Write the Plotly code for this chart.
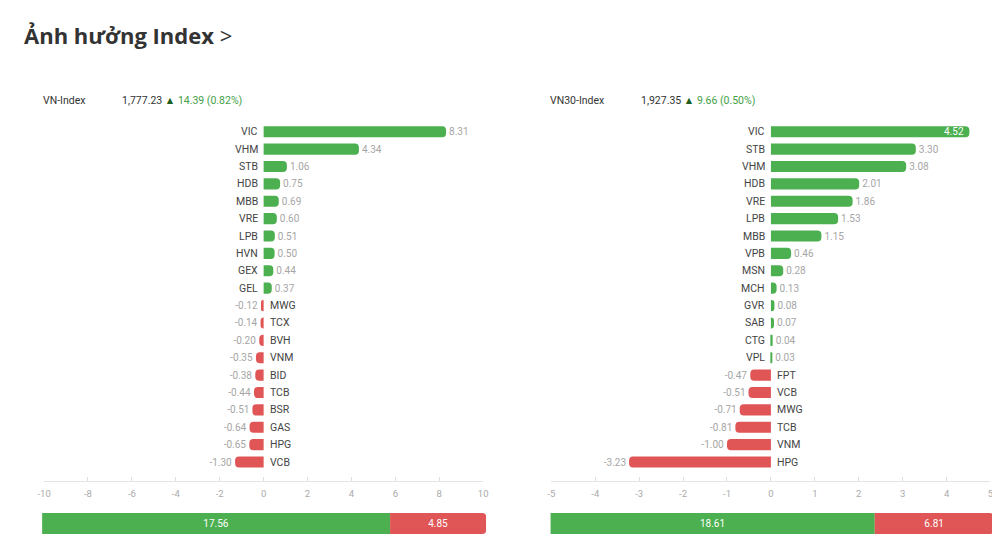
"""Index impact bars: VN-Index and VN30-Index contributors."""

import plotly.graph_objects as go

GREEN = "#4CAF50"
RED = "#E05656"
NAME_COLOR = "#444444"
VALUE_COLOR = "#A6A6A6"
FONT = "Roboto, Arial, sans-serif"

W, H = 1000, 542
# measured from a test render: screen_x ~= 17 + 0.9855 * plot_x, screen_y ~= 8 + plot_y
X0, XS, Y0 = 17.0, 0.9855, 8.0

TITLE = "Ảnh hưởng Index"

VN_LABEL = "VN-Index"
VN_LEVEL = "1,777.23"
VN_CHANGE = "14.39 (0.82%)"
VN_NAMES = ["VIC", "VHM", "STB", "HDB", "MBB", "VRE", "LPB", "HVN", "GEX", "GEL",
            "MWG", "TCX", "BVH", "VNM", "BID", "TCB", "BSR", "GAS", "HPG", "VCB"]
VN_VALUES = [8.31, 4.34, 1.06, 0.75, 0.69, 0.60, 0.51, 0.50, 0.44, 0.37,
             -0.12, -0.14, -0.20, -0.35, -0.38, -0.44, -0.51, -0.64, -0.65, -1.30]
VN_TICKS = [-10, -8, -6, -4, -2, 0, 2, 4, 6, 8, 10]
VN_UP, VN_DOWN = 17.56, 4.85

VN30_LABEL = "VN30-Index"
VN30_LEVEL = "1,927.35"
VN30_CHANGE = "9.66 (0.50%)"
VN30_NAMES = ["VIC", "STB", "VHM", "HDB", "VRE", "LPB", "MBB", "VPB", "MSN", "MCH",
              "GVR", "SAB", "CTG", "VPL", "FPT", "VCB", "MWG", "TCB", "VNM", "HPG"]
VN30_VALUES = [4.52, 3.30, 3.08, 2.01, 1.86, 1.53, 1.15, 0.46, 0.28, 0.13,
               0.08, 0.07, 0.04, 0.03, -0.47, -0.51, -0.71, -0.81, -1.00, -3.23]
VN30_TICKS = [-5, -4, -3, -2, -1, 0, 1, 2, 3, 4, 5]
VN30_UP, VN30_DOWN = 18.61, 6.81


def px_x(x):
    return (x - X0) / XS / W


def px_y(y):
    return 1 - (y - Y0) / H


def fmt(v: float) -> str:
    return f"{v:.2f}"


def add_panel(fig, names, values, ticks, xa, ya, left, right):
    lim = max(abs(t) for t in ticks)
    # the longest bar would run off the axis, so its label sits inside the bar
    inside = [abs(v) > 0.85 * lim for v in values]
    fig.add_trace(go.Bar(
        x=values, y=names, orientation="h", xaxis=xa, yaxis=ya,
        marker=dict(color=[GREEN if v >= 0 else RED for v in values],
                    cornerradius=4, line=dict(width=0)),
        width=0.64,
        text=["" if i else fmt(v) for v, i in zip(values, inside)],
        textposition="outside",
        outsidetextfont=dict(color=VALUE_COLOR, size=10, family=FONT),
        constraintext="none", cliponaxis=False, hoverinfo="x+y",
    ))
    for n, v, i in zip(names, values, inside):
        fig.add_annotation(
            x=0, y=n, xref=xa, yref=ya, text=n, showarrow=False,
            xanchor="right" if v >= 0 else "left", xshift=-4 if v >= 0 else 4,
            font=dict(size=10.5, color=NAME_COLOR, family=FONT),
        )
        if i:
            fig.add_annotation(
                x=v, y=n, xref=xa, yref=ya, text=fmt(v), showarrow=False,
                xanchor="right" if v >= 0 else "left", xshift=-3 if v >= 0 else 3,
                font=dict(size=10, color="white", family=FONT),
            )
    fig.update_layout({
        "xaxis" + xa[1:]: dict(
            domain=[px_x(left), px_x(right)], range=[-lim, lim], tickvals=ticks,
            ticktext=[str(t) for t in ticks], showgrid=False, zeroline=False,
            showline=True, linecolor="#E4E4E4", linewidth=1,
            ticks="inside", ticklen=4, tickcolor="#DDDDDD",
            tickfont=dict(size=9.5, color="#AAAAAA", family=FONT),
            ticklabelstandoff=4, anchor=ya, fixedrange=True),
        "yaxis" + ya[1:]: dict(
            domain=[px_y(481), px_y(123)], type="category", range=[20.09, -0.5],
            showticklabels=False, showgrid=False, zeroline=False,
            anchor=xa, fixedrange=True),
    })


def add_summary(fig, up, down, xa, ya, left, right):
    for v, c in ((up, GREEN), (down, RED)):
        fig.add_trace(go.Bar(
            x=[v], y=[0], orientation="h", xaxis=xa, yaxis=ya, width=1,
            marker=dict(color=c, cornerradius=4, line=dict(width=0)),
            text=[fmt(v)], textposition="inside", insidetextanchor="middle",
            textfont=dict(color="white", size=10, family=FONT), hoverinfo="x",
        ))
    fig.update_layout({
        "xaxis" + xa[1:]: dict(domain=[px_x(left), px_x(right)], range=[0, up + down],
                                visible=False, anchor=ya, fixedrange=True),
        "yaxis" + ya[1:]: dict(domain=[px_y(534), px_y(513)], range=[-0.5, 0.5],
                                visible=False, anchor=xa, fixedrange=True),
    })


def add_header(fig, x_label, x_value, label, level, change):
    y = px_y(100)
    fig.add_annotation(x=px_x(x_label), y=y, xref="paper", yref="paper", text=label,
                       showarrow=False, xanchor="left", yanchor="middle",
                       font=dict(size=10.5, color="#333333", family=FONT))
    fig.add_annotation(
        x=px_x(x_value), y=y, xref="paper", yref="paper", showarrow=False,
        xanchor="left", yanchor="middle",
        text=(f"{level} <span style='color:#1B5E20'>▲</span> "
              f"<span style='color:#43A047'>{change}</span>"),
        font=dict(size=10.5, color="#333333", family=FONT),
    )


def main() -> None:
    fig = go.Figure()
    add_panel(fig, VN_NAMES, VN_VALUES, VN_TICKS, "x", "y", 46, 484)
    add_panel(fig, VN30_NAMES, VN30_VALUES, VN30_TICKS, "x2", "y2", 552, 990)
    add_summary(fig, VN_UP, VN_DOWN, "x3", "y3", 44, 487)
    add_summary(fig, VN30_UP, VN30_DOWN, "x4", "y4", 551, 993)
    add_header(fig, 43, 122, VN_LABEL, VN_LEVEL, VN_CHANGE)
    add_header(fig, 549, 639, VN30_LABEL, VN30_LEVEL, VN30_CHANGE)

    fig.add_annotation(
        x=px_x(24), y=px_y(35), xref="paper", yref="paper", showarrow=False,
        xanchor="left", yanchor="middle",
        text=f"<b>{TITLE}</b> &gt;",
        font=dict(size=22, color="#333333", family="Open Sans, Arial, sans-serif"),
    )

    fig.update_layout(
        width=W, height=H, barmode="relative", showlegend=False,
        margin=dict(l=0, r=0, t=0, b=0),
        paper_bgcolor="white", plot_bgcolor="white",
        font=dict(family=FONT),
    )
    fig.write_html("out.html")


if __name__ == "__main__":
    main()
